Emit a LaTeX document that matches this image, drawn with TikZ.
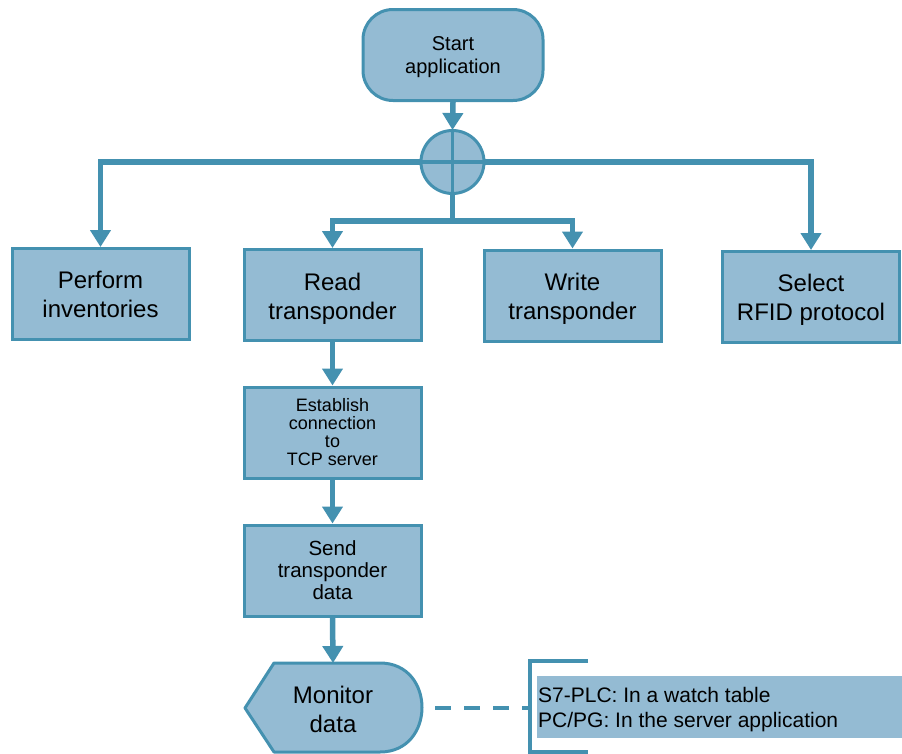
\documentclass[tikz,border=0pt]{standalone}
\usepackage{fontspec}
\setmainfont{Liberation Sans}
\usetikzlibrary{arrows.meta}
\definecolor{boxfill}{RGB}{148,187,211}
\definecolor{boxline}{RGB}{68,145,176}
\newcommand{\lowertext}[2]{\raisebox{-#1}[\height][\depth]{\parbox{170pt}{\centering #2}}}
\tikzset{
  flowbox/.style={rectangle, draw=boxline, fill=boxfill, line width=3pt, minimum width=177pt, minimum height=91pt, align=center, inner sep=0pt},
  bigtext/.style={font=\fontsize{24pt}{29pt}\selectfont},
  conn/.style={draw=boxline, line width=5.5pt},
  arr/.style={conn, -{Triangle[width=20pt,length=17pt]}},
}
\begin{document}
\begin{tikzpicture}[x=1pt,y=-1pt]
\useasboundingbox (0,0) rectangle (902,753);
% nodes
\node[flowbox, rounded corners=30pt, minimum width=180pt, minimum height=91pt, font=\fontsize{20pt}{23pt}\selectfont] (start) at (453,55) {\lowertext{2pt}{Start\\application}};
\node[flowbox, bigtext] (perf) at (100.5,294) {Perform\\inventories};
\node[flowbox, bigtext] (read) at (332.5,295) {\lowertext{3.5pt}{Read\\transponder}};
\node[flowbox, bigtext] (write) at (572.5,295.5) {\lowertext{3pt}{Write\\transponder}};
\node[flowbox, bigtext] (select) at (811,297) {\lowertext{3pt}{Select\\RFID protocol}};
\node[flowbox, font=\fontsize{18pt}{18pt}\selectfont] (estab) at (332.5,432.5) {Establish\\connection\\to\\TCP server};
\node[flowbox, font=\fontsize{20.5pt}{22pt}\selectfont] (send) at (332.5,570.5) {Send\\transponder\\data};
% monitor shape
\coordinate (mtop) at (333,663);
\draw[draw=boxline, fill=boxfill, line width=3pt, line join=round]
  (245,708) -- (274,663) -- (380,663) .. controls (436,663) and (436,752) .. (380,752) -- (274,752) -- cycle;
\node[bigtext, align=center, inner sep=0pt] (mon) at (333,709) {Monitor\\data};
\coordinate (monR) at (435,708);
% junction connectors
\coordinate (jc) at (452.5,162);
\coordinate (lb) at (100.5,162);
\coordinate (rb) at (811,162);
\coordinate (js) at (452.5,221);
\coordinate (rl) at (332.5,221);
\coordinate (wr) at (572.5,221);
\draw[conn, line cap=rect] (lb) -- (rb);
\draw[conn] (jc) -- (js);
\draw[conn, line cap=rect] (rl) -- (wr);
\draw[arr] (lb) -- (perf.north);
\draw[arr] (rb) -- (select.north);
\draw[arr] (rl) -- (read.north);
\draw[arr] (wr) -- (write.north);
\draw[arr] (start.south) -- (452.5,130);
\node[circle, draw=boxline, fill=boxfill, line width=3pt, minimum size=63pt, inner sep=0pt] (junc) at (jc) {};
\draw[draw=boxline, line width=3.5pt] (junc.north) -- (junc.south) (junc.west) -- (junc.east);
\draw[arr] (read.south) -- (estab.north);
\draw[arr] (estab.south) -- (send.north);
\draw[arr] (send.south) -- (mtop);
% annotation
\coordinate (bk) at (530,708);
\draw[draw=boxline, line width=4.5pt, dash pattern=on 16pt off 13pt] (monR) -- (bk);
\draw[draw=boxline, line width=3.5pt] (588,661) -- (530,661) -- (530,752) -- (588,752);
\fill[boxfill] (537,676) rectangle (902,738);
\node[anchor=west, align=left, inner sep=0pt, font=\fontsize{21pt}{25pt}\selectfont] (note) at (538,710) {S7-PLC: In a watch table\\PC/PG: In the server application};
\end{tikzpicture}
\end{document}
